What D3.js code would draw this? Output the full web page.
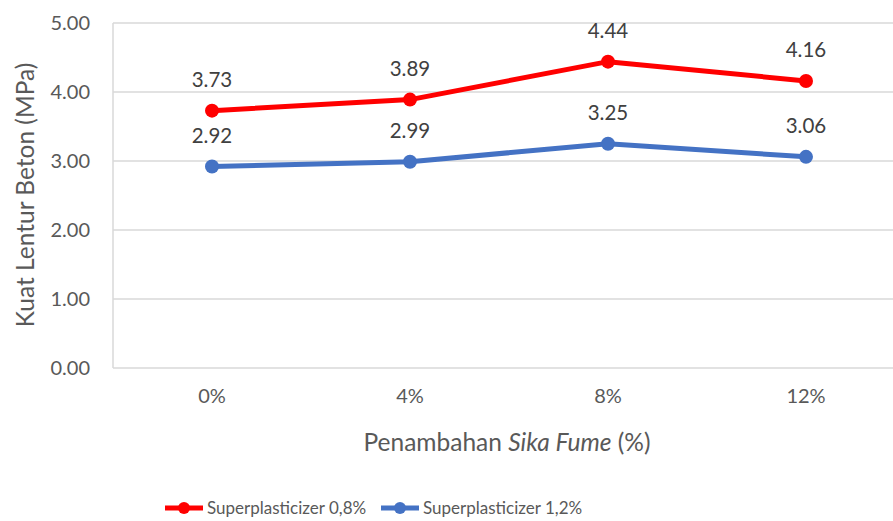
<!DOCTYPE html>
<html>
<head>
<meta charset="utf-8">
<script src="https://cdn.jsdelivr.net/npm/d3@7"></script>
<style>
  body { margin: 0; background: #fff; }
  svg { font-family: Lato, "Open Sans", sans-serif; }
</style>
</head>
<body>
<svg width="893" height="521"></svg>
<script>
var categories = ["0%", "4%", "8%", "12%"];
var sp08 = [3.73, 3.89, 4.44, 4.16];
var sp12 = [2.92, 2.99, 3.25, 3.06];
var yTicks = [0, 1, 2, 3, 4, 5];

var svg = d3.select("svg");
var pLeft = 113, pRight = 905, pTop = 23, pBottom = 368;

var xScale = d3.scaleBand().domain(categories).range([pLeft, pRight]);
var yScale = d3.scaleLinear().domain([0, 5]).range([pBottom, pTop]);
var cx = function (c) { return xScale(c) + xScale.bandwidth() / 2; };

// gridlines
svg.append("g").selectAll("line")
    .data(yTicks).enter().append("line")
    .attr("x1", pLeft).attr("x2", 893)
    .attr("y1", function (d) { return yScale(d); })
    .attr("y2", function (d) { return yScale(d); })
    .attr("stroke", "#d9d9d9").attr("stroke-width", 1.5);

svg.append("line")
    .attr("x1", pLeft).attr("x2", pLeft)
    .attr("y1", pTop).attr("y2", pBottom)
    .attr("stroke", "#d9d9d9").attr("stroke-width", 1.5);

// y axis
var yAxis = svg.append("g")
    .attr("transform", "translate(" + pLeft + ",0)")
    .call(d3.axisLeft(yScale).tickValues(yTicks).tickFormat(d3.format(".2f")).tickSize(0).tickPadding(23));
yAxis.select(".domain").remove();
yAxis.selectAll("text").attr("font-size", "20px").attr("fill", "#595959")
    .attr("font-family", "Lato, sans-serif");

// x axis
var xAxis = svg.append("g")
    .attr("transform", "translate(0," + pBottom + ")")
    .call(d3.axisBottom(xScale).tickSize(0).tickPadding(21));
xAxis.select(".domain").remove();
xAxis.selectAll("text").attr("font-size", "20px").attr("fill", "#595959")
    .attr("font-family", "Lato, sans-serif");

// axis titles
var xt = svg.append("text")
    .attr("x", 507).attr("y", 451)
    .attr("text-anchor", "middle")
    .attr("font-size", "24.5px").attr("fill", "#595959");
xt.append("tspan").text("Penambahan ");
xt.append("tspan").attr("font-style", "italic").text("Sika Fume");
xt.append("tspan").text(" (%)");

svg.append("text")
    .attr("transform", "translate(34,195) rotate(-90)")
    .attr("text-anchor", "middle")
    .attr("font-size", "24.5px").attr("fill", "#595959")
    .text("Kuat Lentur Beton (MPa)");

var series = [
    { name: "Superplasticizer 0,8%", values: sp08, color: "#ff0000" },
    { name: "Superplasticizer 1,2%", values: sp12, color: "#4472c4" }
];

var line = d3.line()
    .x(function (d, i) { return cx(categories[i]); })
    .y(function (d) { return yScale(d); });

series.forEach(function (s) {
    var g = svg.append("g");
    g.append("path")
        .datum(s.values)
        .attr("d", line)
        .attr("fill", "none")
        .attr("stroke", s.color)
        .attr("stroke-width", 5)
        .attr("stroke-linejoin", "round");
    g.selectAll("circle")
        .data(s.values).enter().append("circle")
        .attr("cx", function (d, i) { return cx(categories[i]); })
        .attr("cy", function (d) { return yScale(d); })
        .attr("r", 7)
        .attr("fill", s.color);
    g.selectAll("text")
        .data(s.values).enter().append("text")
        .attr("x", function (d, i) { return cx(categories[i]); })
        .attr("y", function (d) { return yScale(d) - 24; })
        .attr("text-anchor", "middle")
        .attr("font-size", "20.5px")
        .attr("fill", "#404040")
        .text(function (d) { return d.toFixed(2); });
});

// legend
var legend = svg.append("g").attr("transform", "translate(165,508)");
series.forEach(function (s, i) {
    var lg = legend.append("g").attr("transform", "translate(" + (i * 216) + ",0)");
    lg.append("line").attr("x1", 0).attr("x2", 38).attr("y1", 0).attr("y2", 0)
        .attr("stroke", s.color).attr("stroke-width", 5);
    lg.append("circle").attr("cx", 19).attr("cy", 0).attr("r", 6).attr("fill", s.color);
    lg.append("text").attr("x", 42).attr("y", 6)
        .attr("font-size", "17px").attr("fill", "#595959")
        .text(s.name);
});
</script>
</body>
</html>
